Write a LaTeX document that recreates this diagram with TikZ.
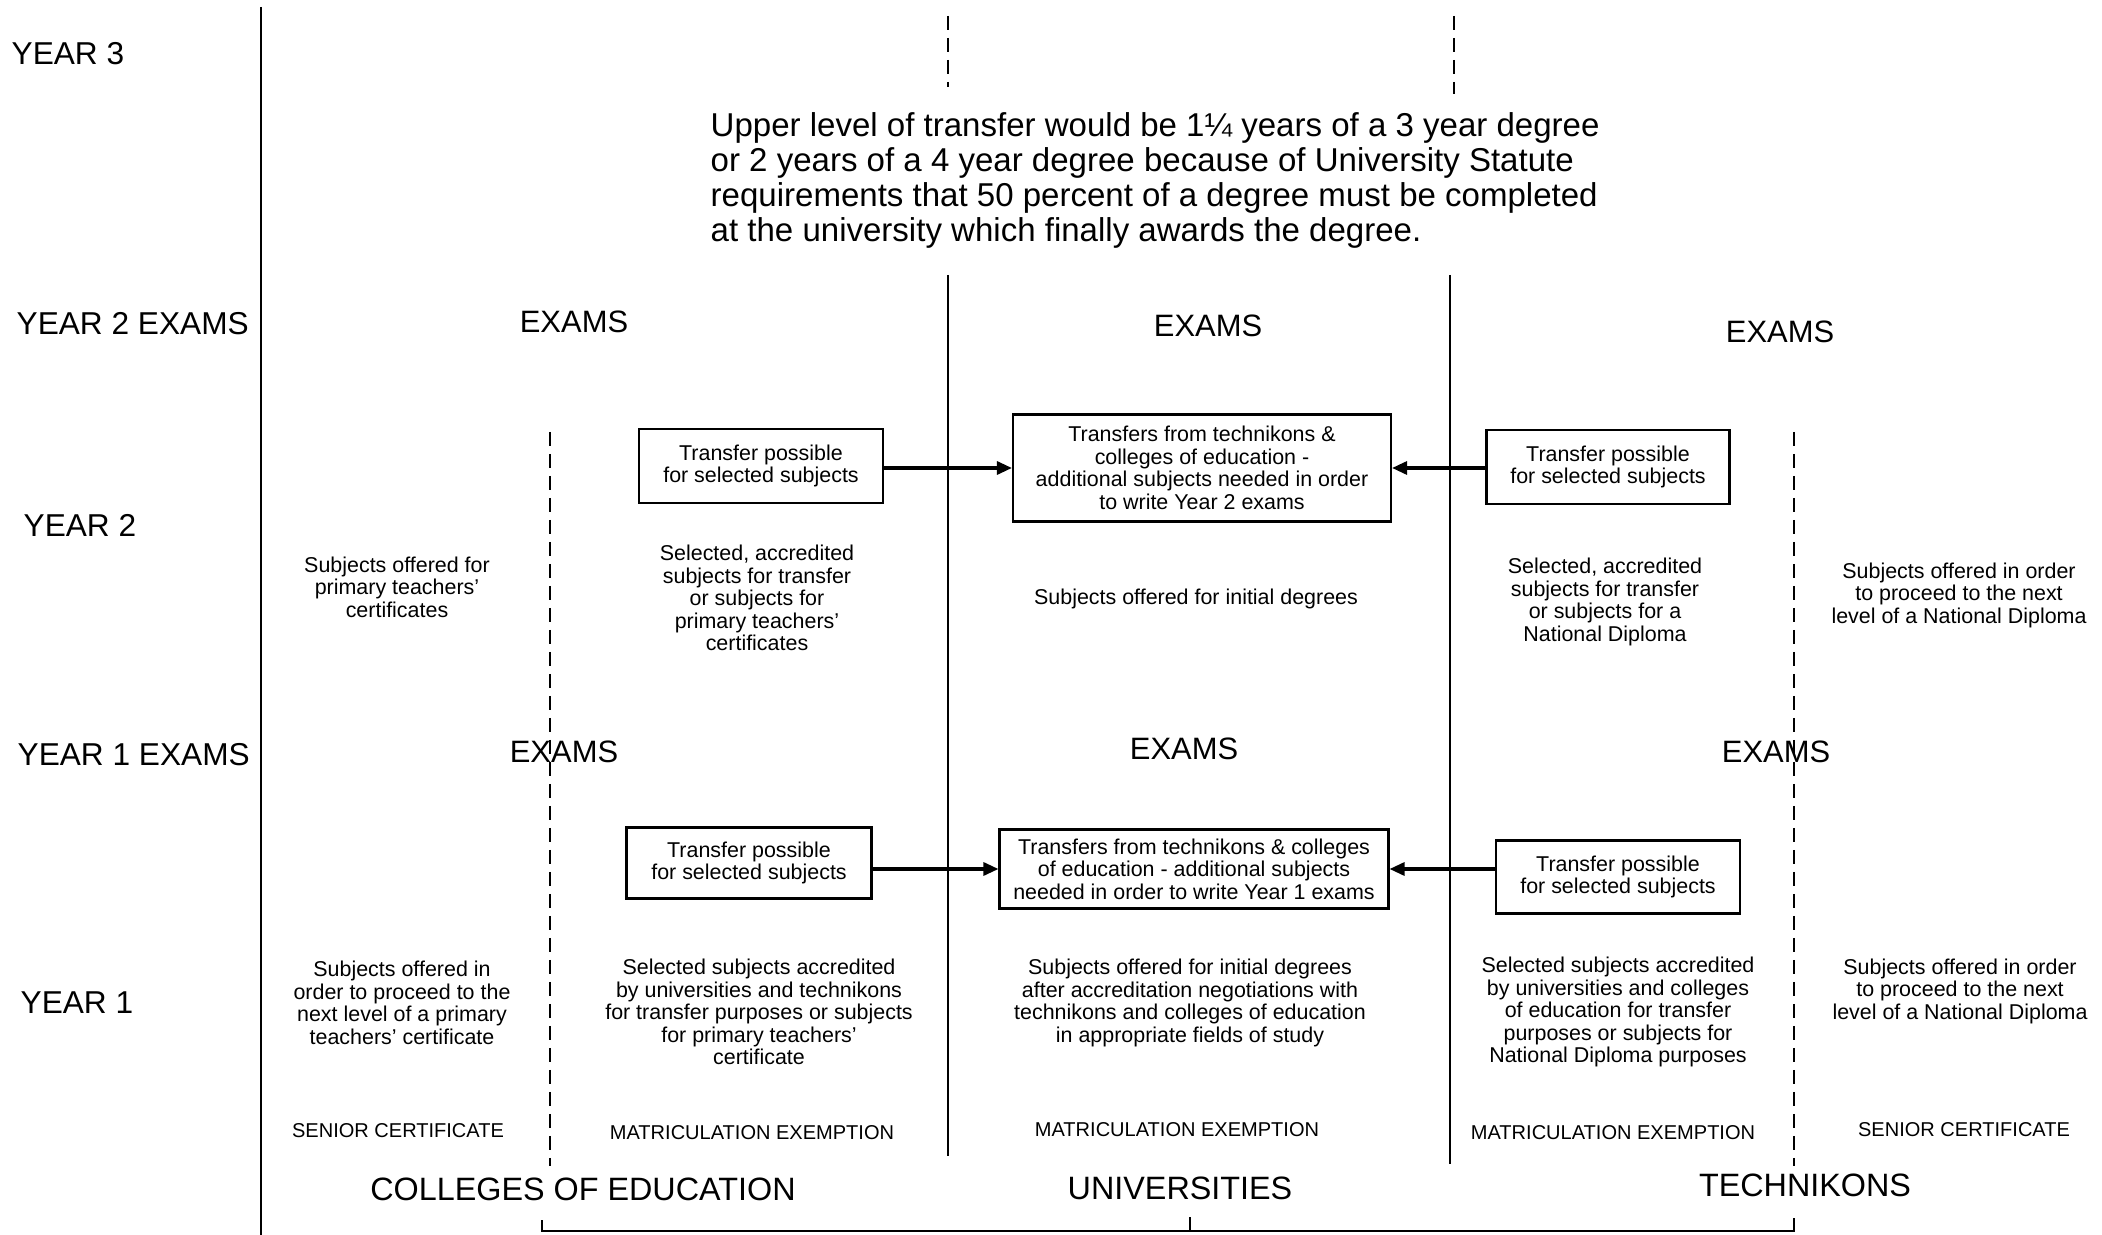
\documentclass[tikz,border=0pt]{standalone}
\usepackage{fontspec}
\setmainfont{Liberation Sans}
\usetikzlibrary{positioning,arrows.meta}

\begin{document}
\begin{tikzpicture}[
x=0.1mm, y=-0.1mm,
year/.style={anchor=west, inner sep=0pt, font=\fontsize{9}{11}\selectfont},
exams/.style={inner sep=0pt, font=\fontsize{8.8}{10}\selectfont},
txt/.style={align=center, inner sep=0pt, font=\fontsize{6.1}{6.4}\selectfont},
cert/.style={inner sep=0pt, font=\fontsize{5.7}{7}\selectfont},
inst/.style={inner sep=0pt, font=\fontsize{9.2}{11}\selectfont},
tbox/.style={draw=black, line width=0.6pt, align=center, inner sep=0pt, font=\fontsize{6.1}{6.4}\selectfont},
rule/.style={line width=0.8pt},
divider/.style={line width=0.7pt, dash pattern=on 1.4mm off 0.8mm},
flow/.style={line width=0.9pt, -{Triangle[length=1.5mm,width=1.3mm]}}
]
\useasboundingbox (0,0) rectangle (2102,1235);
%Nodes
\node[year]      (yr3)    at (11,54)       {YEAR 3};
\node[year]      (yr2ex)  at (16,324)      {YEAR 2 EXAMS};
\node[year]      (yr2)    at (23,525)      {YEAR 2};
\node[year]      (yr1ex)  at (17,755)      {YEAR 1 EXAMS};
\node[year]      (yr1)    at (20,1003)     {YEAR 1};

\node[anchor=west, align=left, inner sep=0pt, font=\fontsize{9.4}{9.96}\selectfont]
                 (upper)  at (710,180)     {Upper level of transfer would be 1¼ years of a 3 year degree\\
or 2 years of a 4 year degree because of University Statute\\
requirements that 50 percent of a degree must be completed\\
at the university which finally awards the degree.};

\node[exams]     (ceex2)  at (574,322)     {EXAMS};
\node[exams]     (unex2)  at (1208,326)    {EXAMS};
\node[exams]     (tcex2)  at (1780,332)    {EXAMS};
\node[exams]     (ceex1)  at (564,752)     {EXAMS};
\node[exams]     (unex1)  at (1184,749)    {EXAMS};
\node[exams]     (tcex1)  at (1776,752)    {EXAMS};

\node[tbox, minimum width=24.4mm, minimum height=7.4mm]  (cebox2) at (761,466)  {Transfer possible\\for selected subjects};
\node[tbox, minimum width=37.8mm, minimum height=10.7mm] (unbox2) at (1202,468) {Transfers from technikons \&\\colleges of education -\\additional subjects needed in order\\to write Year 2 exams};
\node[tbox, minimum width=24.3mm, minimum height=7.4mm]  (tcbox2) at (1608,467) {Transfer possible\\for selected subjects};
\node[tbox, minimum width=24.5mm, minimum height=7.1mm]  (cebox1) at (749,863)  {Transfer possible\\for selected subjects};
\node[tbox, minimum width=38.9mm, minimum height=7.9mm]  (unbox1) at (1194,869) {Transfers from technikons \& colleges\\of education - additional subjects\\needed in order to write Year 1 exams};
\node[tbox, minimum width=24.4mm, minimum height=7.3mm]  (tcbox1) at (1618,877) {Transfer possible\\for selected subjects};

\node[txt]       (ce2a)   at (397,587)     {Subjects offered for\\primary teachers'\\certificates};
\node[txt]       (ce2b)   at (757,598)     {Selected, accredited\\subjects for transfer\\or subjects for\\primary teachers'\\certificates};
\node[txt]       (un2)    at (1196,599)    {Subjects offered for initial degrees};
\node[txt]       (tc2b)   at (1605,602)    {Selected, accredited\\subjects for transfer\\or subjects for a\\National Diploma};
\node[txt]       (tc2a)   at (1959,595)    {Subjects offered in order\\to proceed to the next\\level of a National Diploma};

\node[txt]       (ce1a)   at (402,1003)    {Subjects offered in\\order to proceed to the\\next level of a primary\\teachers' certificate};
\node[txt]       (ce1b)   at (759,1012)    {Selected subjects accredited\\by universities and technikons\\for transfer purposes or subjects\\for primary teachers'\\certificate};
\node[txt]       (un1)    at (1190,1003)   {Subjects offered for initial degrees\\after accreditation negotiations with\\technikons and colleges of education\\in appropriate fields of study};
\node[txt]       (tc1b)   at (1618,1012)   {Selected subjects accredited\\by universities and colleges\\of education for transfer\\purposes or subjects for\\National Diploma purposes};
\node[txt]       (tc1a)   at (1960,991)    {Subjects offered in order\\to proceed to the next\\level of a National Diploma};

\node[cert]      (cesc)   at (398,1131)    {SENIOR CERTIFICATE};
\node[cert]      (ceme)   at (752,1133)    {MATRICULATION EXEMPTION};
\node[cert]      (unme)   at (1177,1130)   {MATRICULATION EXEMPTION};
\node[cert]      (tcme)   at (1613,1133)   {MATRICULATION EXEMPTION};
\node[cert]      (tcsc)   at (1964,1130)   {SENIOR CERTIFICATE};

\node[inst]      (coe)    at (583,1189)    {COLLEGES OF EDUCATION};
\node[inst]      (univ)   at (1180,1188)   {UNIVERSITIES};
\node[inst]      (tech)   at (1805,1185)   {TECHNIKONS};

%Lines
\draw[rule] (261,7) -- (261,1235);
\draw[rule] (948,275) -- (948,1156);
\draw[rule] (1450,275) -- (1450,1164);
\draw[divider] (948,16) -- (948,87);
\draw[divider] (1454,16) -- (1454,94);
\draw[divider] (550,432) -- (550,1166);
\draw[divider] (1794,432) -- (1794,1166);
\draw[line width=0.7pt] (542,1220) |- (1794,1231) -- (1794,1218);
\draw[line width=0.7pt] (1190,1217) -- (1190,1231);

\draw[flow] (cebox2.east |- unbox2) -- (unbox2.west);
\draw[flow] (tcbox2.west |- unbox2) -- (unbox2.east);
\draw[flow] (cebox1.east |- unbox1) -- (unbox1.west);
\draw[flow] (tcbox1.west |- unbox1) -- (unbox1.east);
\end{tikzpicture}
\end{document}
